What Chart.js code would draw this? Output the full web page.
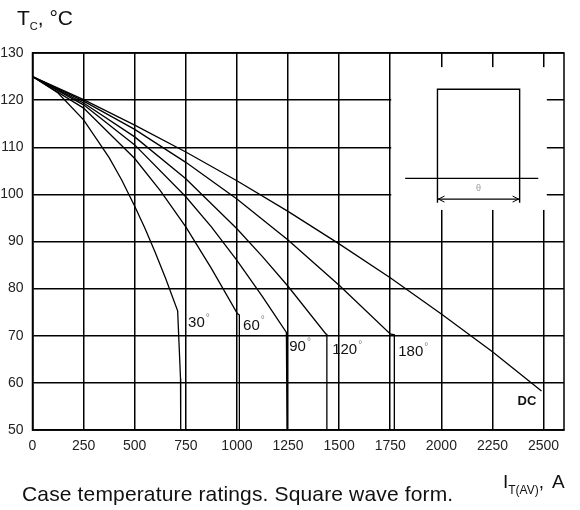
<!DOCTYPE html>
<html>
<head>
<meta charset="utf-8">
<script src="https://cdn.jsdelivr.net/npm/chart.js@4"></script>
<style>
  html, body { margin: 0; padding: 0; background: #fff; }
  #wrap { position: relative; width: 580px; height: 510px; overflow: hidden; font-family: "Liberation Sans", Arial, sans-serif; color: #111; }
  #wrap canvas { position: absolute; left: 0; top: 0; }
  .lbl { position: absolute; white-space: nowrap; line-height: 1; }
  .lbl sub { vertical-align: baseline; position: relative; }
</style>
</head>
<body>
<div id="wrap">
  <canvas id="chart" width="580" height="510"></canvas>
  <div class="lbl" style="left:17px; top:7px; font-size:21px;">T<sub style="font-size:11px; top:5px;">C</sub>, °C</div>
  <div class="lbl" style="left:503px; top:472px; font-size:19px;">I<sub style="font-size:12px; top:6px;">T(AV)</sub>,<span style="margin-left:8px;">A</span></div>
  <div class="lbl" style="left:22px; top:483px; font-size:21px; letter-spacing:0.15px;">Case temperature ratings. Square wave form.</div>
</div>
<script>
// Axis ticks
const currentTicks = [0, 250, 500, 750, 1000, 1250, 1500, 1750, 2000, 2250, 2500];
const tempTicks = [50, 60, 70, 80, 90, 100, 110, 120, 130];

// Curves: average on-state current (A) vs case temperature (°C)
const dcCurrent = [0, 250, 500, 750, 1000, 1250, 1500, 1750, 2000, 2250, 2490];
const dcTemp = [125, 120.1, 114.7, 109.0, 102.9, 96.4, 89.5, 82.3, 74.6, 66.6, 58.3];

const sq180Current = [0, 250, 500, 750, 1000, 1250, 1500, 1750, 1770, 1770];
const sq180Temp = [125, 119.8, 113.8, 106.8, 99.0, 90.3, 80.7, 70.4, 70.2, 50];

const sq120Current = [0, 250, 500, 750, 1000, 1125, 1250, 1435, 1440, 1440];
const sq120Temp = [125, 119.4, 112.2, 103.3, 92.7, 86.8, 80.5, 70.4, 70.3, 50];

const sq90Current = [0, 250, 500, 750, 875, 1000, 1125, 1242, 1245];
const sq90Temp = [125, 119.0, 110.5, 99.5, 93.1, 86.0, 78.3, 70.7, 50];

const sq60Current = [0, 250, 500, 625, 750, 875, 1002, 1012, 1012];
const sq60Temp = [125, 118.3, 107.6, 100.8, 93.1, 84.3, 74.7, 74.4, 50];

const sq30Current = [0, 125, 250, 375, 437, 500, 550, 600, 650, 710, 724, 725];
const sq30Temp = [125, 121.5, 115.8, 107.8, 103.0, 97.5, 92.8, 87.7, 82.3, 75.3, 61, 50];

// Conduction angle labels
const angleLabels = ['30', '60', '90', '120', '180'];
const angleLabelCurrent = [761, 1030, 1256, 1466, 1789];
const angleLabelTemp = [72.7, 72.2, 67.6, 66.9, 66.5];

// Sketch of the waveform in the upper right corner (data units)
const clearArea = { left: 1750, right: 2516, top: 127, bottom: 96.7 };
const sketch = { left: 1981, right: 2383, top: 122.3, sideBottom: 98.2, baseY: 103.4, baseLeft: 1823, baseRight: 2474, arrowY: 99.0 };

function toPoints(xs, ys) {
  return xs.map((v, i) => ({ x: v, y: ys[i] }));
}

function curve(label, xs, ys) {
  return {
    label,
    data: toPoints(xs, ys),
    showLine: true,
    borderColor: '#000',
    borderWidth: 1.3,
    pointRadius: 0,
    tension: 0
  };
}

const decorPlugin = {
  id: 'decor',
  beforeDatasetsDraw(chart) {
    const { ctx, chartArea: a, scales: { x, y } } = chart;
    ctx.save();

    // white patch over the grid
    const cl = x.getPixelForValue(clearArea.left) + 1;
    const cr = x.getPixelForValue(clearArea.right);
    const ct = y.getPixelForValue(clearArea.top);
    const cb = y.getPixelForValue(clearArea.bottom);
    ctx.fillStyle = '#fff';
    ctx.fillRect(cl, ct, cr - cl, cb - ct);

    // frame
    ctx.strokeStyle = '#000';
    ctx.lineWidth = 1.5;
    ctx.strokeRect(a.left, a.top, a.right - a.left, a.bottom - a.top);

    // square wave sketch
    const sl = x.getPixelForValue(sketch.left);
    const sr = x.getPixelForValue(sketch.right);
    const st = y.getPixelForValue(sketch.top);
    const sb = y.getPixelForValue(sketch.sideBottom);
    const by = y.getPixelForValue(sketch.baseY);
    const ay = y.getPixelForValue(sketch.arrowY);
    ctx.lineWidth = 1.4;
    ctx.beginPath();
    ctx.moveTo(sl, sb); ctx.lineTo(sl, st); ctx.lineTo(sr, st); ctx.lineTo(sr, sb);
    ctx.moveTo(x.getPixelForValue(sketch.baseLeft), by);
    ctx.lineTo(x.getPixelForValue(sketch.baseRight), by);
    ctx.moveTo(sl, ay); ctx.lineTo(sr, ay);
    ctx.stroke();
    ctx.lineWidth = 1;
    ctx.beginPath();
    ctx.moveTo(sl + 7, ay - 3); ctx.lineTo(sl + 1, ay); ctx.lineTo(sl + 7, ay + 3);
    ctx.moveTo(sr - 7, ay - 3); ctx.lineTo(sr - 1, ay); ctx.lineTo(sr - 7, ay + 3);
    ctx.stroke();
    ctx.fillStyle = '#999';
    ctx.font = '9px "Liberation Sans", Arial, sans-serif';
    ctx.textAlign = 'center';
    ctx.textBaseline = 'middle';
    ctx.fillText('θ', (sl + sr) / 2, (by + ay) / 2);
    ctx.restore();
  },
  afterDatasetsDraw(chart) {
    const { ctx, scales: { x, y } } = chart;
    ctx.save();
    ctx.textBaseline = 'middle';
    ctx.textAlign = 'left';
    angleLabels.forEach((t, i) => {
      const px = x.getPixelForValue(angleLabelCurrent[i]);
      const py = y.getPixelForValue(angleLabelTemp[i]);
      ctx.font = '15px "Liberation Sans", Arial, sans-serif';
      ctx.fillStyle = '#111';
      ctx.fillText(t, px, py);
      const w = ctx.measureText(t).width;
      ctx.font = '10px "Liberation Sans", Arial, sans-serif';
      ctx.fillStyle = '#888';
      ctx.fillText('°', px + w + 1, py - 5);
    });
    ctx.font = 'bold 13px "Liberation Sans", Arial, sans-serif';
    ctx.fillStyle = '#111';
    ctx.fillText('DC', x.getPixelForValue(2373), y.getPixelForValue(56.1));
    ctx.restore();
  }
};

new Chart(document.getElementById('chart'), {
  type: 'scatter',
  data: {
    datasets: [
      curve('DC', dcCurrent, dcTemp),
      curve('180°', sq180Current, sq180Temp),
      curve('120°', sq120Current, sq120Temp),
      curve('90°', sq90Current, sq90Temp),
      curve('60°', sq60Current, sq60Temp),
      curve('30°', sq30Current, sq30Temp)
    ]
  },
  options: {
    responsive: false,
    animation: false,
    layout: { padding: { top: 53, right: 16, bottom: 50, left: 0 } },
    plugins: { legend: { display: false }, tooltip: { enabled: false } },
    scales: {
      x: {
        type: 'linear',
        min: 0,
        max: 2600,
        afterFit: s => { s.height = 30; },
        afterBuildTicks: s => { s.ticks = currentTicks.map(v => ({ value: v })); },
        ticks: {
          color: '#222',
          padding: 8,
          maxRotation: 0,
          autoSkip: false,
          callback: v => String(v),
          font: { family: '"Liberation Sans", Arial, sans-serif', size: 14 }
        },
        grid: { color: '#000', lineWidth: 1.5, drawTicks: false },
        border: { color: '#000', width: 1.5 }
      },
      y: {
        type: 'linear',
        min: 50,
        max: 130,
        afterFit: s => { s.width = 32.5; },
        afterBuildTicks: s => { s.ticks = tempTicks.map(v => ({ value: v })); },
        ticks: {
          color: '#222',
          padding: 9,
          callback: v => String(v),
          font: { family: '"Liberation Sans", Arial, sans-serif', size: 14 }
        },
        grid: { color: '#000', lineWidth: 1.5, drawTicks: false },
        border: { color: '#000', width: 1.5 }
      }
    }
  },
  plugins: [decorPlugin]
});
</script>
</body>
</html>
